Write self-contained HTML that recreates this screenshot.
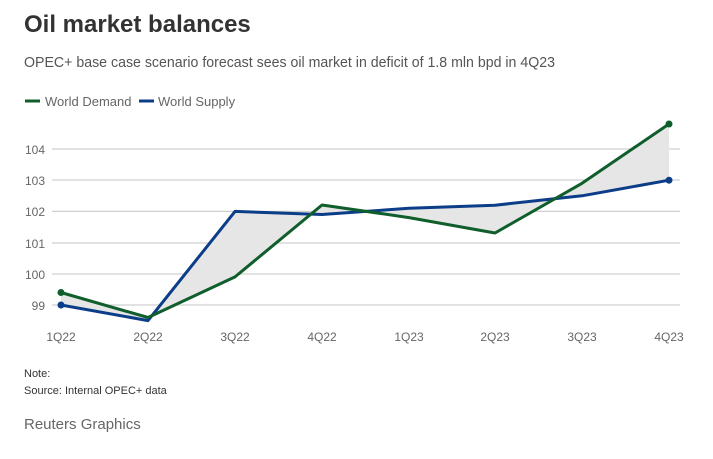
<!DOCTYPE html>
<html><head><style>
body{margin:0;width:713px;height:454px;background:#fff;font-family:"Liberation Sans",sans-serif;overflow:hidden}
</style></head><body>
<svg width="713" height="454" xmlns="http://www.w3.org/2000/svg" font-family="Liberation Sans, sans-serif">
<text x="24" y="32" font-size="24" font-weight="bold" fill="#333">Oil market balances</text>
<text x="24" y="67" font-size="14.5" fill="#555" textLength="531" lengthAdjust="spacingAndGlyphs">OPEC+ base case scenario forecast sees oil market in deficit of 1.8 mln bpd in 4Q23</text>
<line x1="25" y1="101" x2="40" y2="101" stroke="#0f5e2c" stroke-width="3"/>
<text x="45" y="106" font-size="13" fill="#666">World Demand</text>
<line x1="139" y1="101" x2="154" y2="101" stroke="#0c3d88" stroke-width="3"/>
<text x="158" y="106" font-size="13" fill="#666">World Supply</text>
<g stroke="#d0d0d0" stroke-width="1.2">
<line x1="52" y1="149" x2="680" y2="149"/><line x1="52" y1="180" x2="680" y2="180"/>
<line x1="52" y1="211.4" x2="680" y2="211.4"/><line x1="52" y1="243" x2="680" y2="243"/>
<line x1="52" y1="274" x2="680" y2="274"/><line x1="52" y1="305" x2="680" y2="305"/>
</g>
<g font-size="12" fill="#666" text-anchor="end">
<text x="45" y="154">104</text><text x="45" y="185">103</text><text x="45" y="216">102</text>
<text x="45" y="248">101</text><text x="45" y="279">100</text><text x="45" y="310">99</text>
</g>
<g font-size="12" fill="#666" text-anchor="middle">
<text x="61" y="341">1Q22</text><text x="148" y="341">2Q22</text><text x="235" y="341">3Q22</text>
<text x="322" y="341">4Q22</text><text x="409" y="341">1Q23</text><text x="495" y="341">2Q23</text>
<text x="582" y="341">3Q23</text><text x="669" y="341">4Q23</text>
</g>
<polygon fill="#e6e6e6" points="61,292.5 148,317.5 235,276.9 322,205 409,217.6 495,233 582,183.3 669,124 669,180.2 582,195.8 495,205.2 409,208.3 322,214.5 235,211.4 148,320.6 61,305"/>
<polyline fill="none" stroke="#0c3d88" stroke-width="3" stroke-linejoin="round" points="61,305 148,320.6 235,211.4 322,214.5 409,208.3 495,205.2 582,195.8 669,180.2"/>
<polyline fill="none" stroke="#0f5e2c" stroke-width="3" stroke-linejoin="round" points="61,292.5 148,317.5 235,276.9 322,205 409,217.6 495,233 582,183.3 669,124"/>
<circle cx="61" cy="305" r="3.5" fill="#0c3d88"/><circle cx="669" cy="180.2" r="3.5" fill="#0c3d88"/>
<circle cx="61" cy="292.5" r="3.5" fill="#0f5e2c"/><circle cx="669" cy="124" r="3.5" fill="#0f5e2c"/>
<text x="24" y="377" font-size="11" fill="#333">Note:</text>
<text x="24" y="394" font-size="11" fill="#333">Source: Internal OPEC+ data</text>
<text x="24" y="429" font-size="15" fill="#666">Reuters Graphics</text>
</svg>
</body></html>
